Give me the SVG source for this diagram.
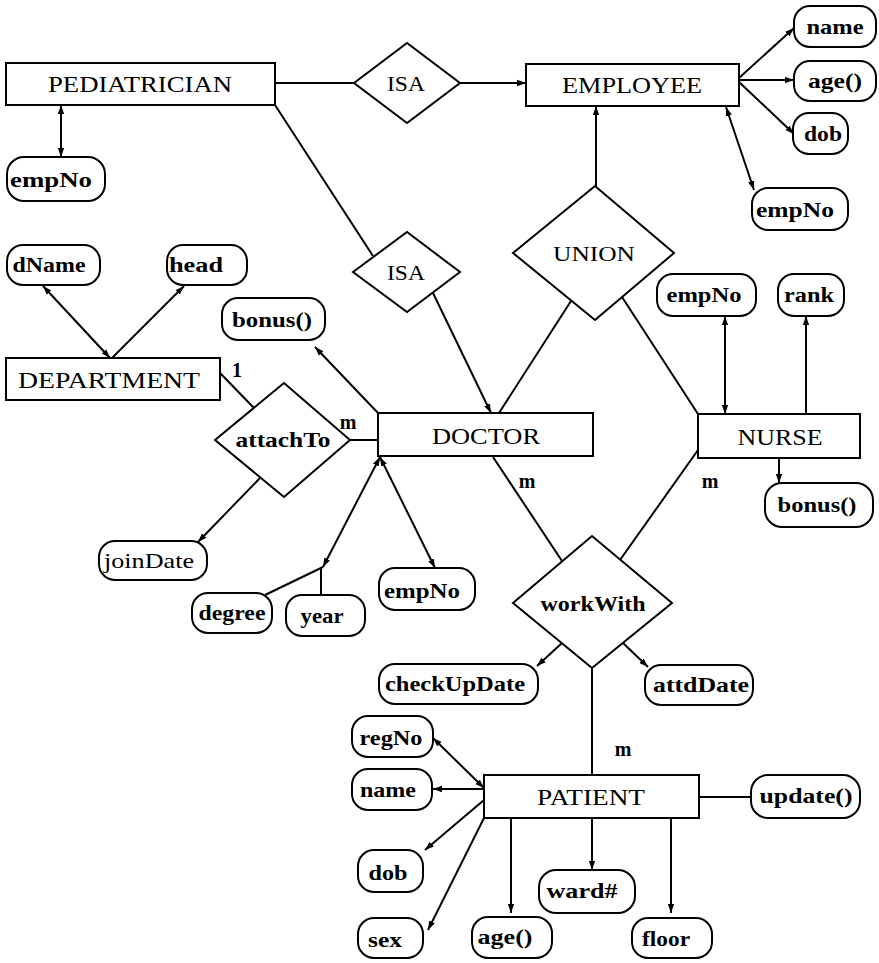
<svg xmlns="http://www.w3.org/2000/svg" width="879" height="963" viewBox="0 0 879 963">
<style>
.box{fill:#fff;stroke:#000;stroke-width:2}
.attr{fill:#fff;stroke:#000;stroke-width:2}
.dia{fill:#fff;stroke:#000;stroke-width:2}
.ent{font-family:"Liberation Serif",serif;font-size:24px;text-anchor:middle;fill:#000}
.at{font-family:"Liberation Serif",serif;font-size:22px;font-weight:bold;text-anchor:middle;fill:#000}
.rel{font-family:"Liberation Serif",serif;font-size:22px;text-anchor:middle;fill:#000}
.relb{font-family:"Liberation Serif",serif;font-size:22px;font-weight:bold;text-anchor:middle;fill:#000}
.lbl{font-family:"Liberation Serif",serif;font-size:20px;font-weight:bold;text-anchor:middle;fill:#000}
#connectors line{stroke:#000;stroke-width:2;fill:none}
.e{marker-end:url(#a)}
.d{marker-start:url(#a);marker-end:url(#a)}
</style>
<defs>
<marker id="a" viewBox="0 0 10 10" refX="10" refY="5" markerWidth="9" markerHeight="9" markerUnits="userSpaceOnUse" orient="auto-start-reverse">
<path d="M0,1.5 L10,5 L0,8.5 z" fill="#000"/>
</marker>
</defs>
<rect width="879" height="963" fill="#fff"/>
<g id="connectors">
<line x1="275" y1="83" x2="354" y2="83"/>
<line class="e" x1="460" y1="83" x2="526" y2="83"/>
<line class="e" x1="596" y1="186" x2="596" y2="106"/>
<line class="e" x1="739" y1="78" x2="794" y2="28"/>
<line class="e" x1="739" y1="80" x2="794" y2="80"/>
<line class="e" x1="739" y1="82" x2="794" y2="134"/>
<line class="d" x1="726" y1="107" x2="754" y2="190"/>
<line class="d" x1="61" y1="105" x2="61" y2="157"/>
<line x1="275" y1="105" x2="373" y2="256"/>
<line class="e" x1="433" y1="293" x2="491" y2="413"/>
<line x1="571" y1="301" x2="499" y2="413"/>
<line x1="622" y1="297" x2="698" y2="414"/>
<line class="d" x1="110" y1="358" x2="43" y2="286"/>
<line class="e" x1="112" y1="358" x2="184" y2="286"/>
<line x1="220" y1="373" x2="254" y2="408"/>
<line x1="350" y1="440" x2="378" y2="440"/>
<line class="e" x1="378" y1="413" x2="315" y2="347"/>
<line class="e" x1="260" y1="478" x2="198" y2="542"/>
<line class="d" x1="380" y1="457" x2="323" y2="567"/>
<line x1="323" y1="567" x2="265" y2="595"/>
<line x1="321" y1="567" x2="321" y2="595"/>
<line class="d" x1="380" y1="457" x2="435" y2="568"/>
<line x1="493" y1="457" x2="562" y2="561"/>
<line x1="698" y1="450" x2="620" y2="560"/>
<line class="d" x1="725" y1="316" x2="725" y2="414"/>
<line class="e" x1="806" y1="414" x2="806" y2="316"/>
<line class="e" x1="779" y1="458" x2="779" y2="483"/>
<line class="e" x1="562" y1="643" x2="537" y2="666"/>
<line class="e" x1="623" y1="643" x2="648" y2="667"/>
<line x1="592" y1="668" x2="592" y2="775"/>
<line class="d" x1="484" y1="788" x2="433" y2="738"/>
<line class="e" x1="484" y1="789" x2="433" y2="789"/>
<line class="e" x1="484" y1="800" x2="425" y2="850"/>
<line class="e" x1="484" y1="818" x2="428" y2="930"/>
<line class="e" x1="511" y1="818" x2="511" y2="913"/>
<line class="e" x1="592" y1="818" x2="592" y2="870"/>
<line class="e" x1="671" y1="818" x2="671" y2="913"/>
<line x1="699" y1="797" x2="751" y2="797"/>
</g>
<g id="pediatrician"><rect class="box" x="6" y="63" width="269" height="42"/><text class="ent" x="140" y="92" textLength="184" lengthAdjust="spacingAndGlyphs">PEDIATRICIAN</text></g>
<g id="isa1"><polygon class="dia" points="354,83 407,43 460,83 407,123"/><text class="rel" x="406" y="91" textLength="38" lengthAdjust="spacingAndGlyphs">ISA</text></g>
<g id="employee"><rect class="box" x="526" y="64" width="213" height="42"/><text class="ent" x="632" y="93" textLength="140" lengthAdjust="spacingAndGlyphs">EMPLOYEE</text></g>
<g id="emp-name"><rect class="attr" x="794" y="6" width="82" height="41" rx="16"/><text class="at" x="835" y="34" textLength="57" lengthAdjust="spacingAndGlyphs">name</text></g>
<g id="emp-age"><rect class="attr" x="794" y="61" width="82" height="40" rx="16"/><text class="at" x="835" y="88" textLength="54" lengthAdjust="spacingAndGlyphs">age()</text></g>
<g id="emp-dob"><rect class="attr" x="793" y="113" width="55" height="41" rx="16"/><text class="at" x="823" y="141" textLength="38" lengthAdjust="spacingAndGlyphs">dob</text></g>
<g id="emp-empNo"><rect class="attr" x="752" y="188" width="96" height="42" rx="16"/><text class="at" x="795" y="217" textLength="78" lengthAdjust="spacingAndGlyphs">empNo</text></g>
<g id="ped-empNo"><rect class="attr" x="7" y="157" width="98" height="44" rx="17"/><text class="at" x="51" y="187" textLength="82" lengthAdjust="spacingAndGlyphs">empNo</text></g>
<g id="union"><polygon class="dia" points="513,253 595,186 674,253 595,320"/><text class="rel" x="594" y="261" textLength="82" lengthAdjust="spacingAndGlyphs">UNION</text></g>
<g id="isa2"><polygon class="dia" points="353,272 407,232 460,272 407,312"/><text class="rel" x="406" y="280" textLength="38" lengthAdjust="spacingAndGlyphs">ISA</text></g>
<g id="dName"><rect class="attr" x="7" y="245" width="93" height="40" rx="16"/><text class="at" x="49" y="272" textLength="73" lengthAdjust="spacingAndGlyphs">dName</text></g>
<g id="head"><rect class="attr" x="167" y="245" width="80" height="40" rx="16"/><text class="at" x="196" y="272" textLength="54" lengthAdjust="spacingAndGlyphs">head</text></g>
<g id="doc-bonus"><rect class="attr" x="222" y="298" width="103" height="42" rx="16"/><text class="at" x="272" y="327" textLength="80" lengthAdjust="spacingAndGlyphs">bonus()</text></g>
<g id="department"><rect class="box" x="6" y="358" width="214" height="42"/><text class="ent" x="109" y="388" textLength="182" lengthAdjust="spacingAndGlyphs">DEPARTMENT</text></g>
<g id="attachTo"><polygon class="dia" points="215,440 284,383 350,440 284,497"/><text class="relb" x="283" y="447" textLength="95" lengthAdjust="spacingAndGlyphs">attachTo</text></g>
<g id="doctor"><rect class="box" x="378" y="413" width="215" height="43"/><text class="ent" x="486" y="444" textLength="108" lengthAdjust="spacingAndGlyphs">DOCTOR</text></g>
<g id="nurse"><rect class="box" x="698" y="414" width="162" height="44"/><text class="ent" x="780" y="445" textLength="85" lengthAdjust="spacingAndGlyphs">NURSE</text></g>
<g id="nurse-empNo"><rect class="attr" x="657" y="274" width="99" height="42" rx="16"/><text class="at" x="704" y="302" textLength="75" lengthAdjust="spacingAndGlyphs">empNo</text></g>
<g id="rank"><rect class="attr" x="778" y="274" width="66" height="42" rx="16"/><text class="at" x="809" y="302" textLength="50" lengthAdjust="spacingAndGlyphs">rank</text></g>
<g id="nurse-bonus"><rect class="attr" x="765" y="483" width="108" height="44" rx="17"/><text class="at" x="817" y="512" textLength="79" lengthAdjust="spacingAndGlyphs">bonus()</text></g>
<g id="workWith"><polygon class="dia" points="513,603 592,536 672,603 592,668"/><text class="relb" x="593" y="611" textLength="105" lengthAdjust="spacingAndGlyphs">workWith</text></g>
<g id="checkUpDate"><rect class="attr" x="379" y="664" width="159" height="40" rx="16"/><text class="at" x="455" y="691" textLength="140" lengthAdjust="spacingAndGlyphs">checkUpDate</text></g>
<g id="attdDate"><rect class="attr" x="645" y="665" width="108" height="40" rx="16"/><text class="at" x="701" y="692" textLength="96" lengthAdjust="spacingAndGlyphs">attdDate</text></g>
<g id="joinDate"><rect class="attr" x="99" y="541" width="108" height="39" rx="16"/><text class="rel" x="149" y="568" textLength="90" lengthAdjust="spacingAndGlyphs">joinDate</text></g>
<g id="degree"><rect class="attr" x="192" y="593" width="80" height="40" rx="16"/><text class="at" x="232" y="620" textLength="67" lengthAdjust="spacingAndGlyphs">degree</text></g>
<g id="year"><rect class="attr" x="286" y="595" width="79" height="41" rx="16"/><text class="at" x="322" y="623" textLength="43" lengthAdjust="spacingAndGlyphs">year</text></g>
<g id="doc-empNo"><rect class="attr" x="379" y="568" width="96" height="42" rx="16"/><text class="at" x="422" y="598" textLength="76" lengthAdjust="spacingAndGlyphs">empNo</text></g>
<g id="patient"><rect class="box" x="484" y="775" width="215" height="43"/><text class="ent" x="591" y="805" textLength="108" lengthAdjust="spacingAndGlyphs">PATIENT</text></g>
<g id="update"><rect class="attr" x="751" y="775" width="109" height="43" rx="17"/><text class="at" x="806" y="803" textLength="93" lengthAdjust="spacingAndGlyphs">update()</text></g>
<g id="regNo"><rect class="attr" x="352" y="716" width="81" height="41" rx="16"/><text class="at" x="391" y="745" textLength="63" lengthAdjust="spacingAndGlyphs">regNo</text></g>
<g id="pat-name"><rect class="attr" x="352" y="769" width="80" height="41" rx="16"/><text class="at" x="388" y="797" textLength="56" lengthAdjust="spacingAndGlyphs">name</text></g>
<g id="pat-dob"><rect class="attr" x="358" y="850" width="65" height="42" rx="16"/><text class="at" x="388" y="880" textLength="39" lengthAdjust="spacingAndGlyphs">dob</text></g>
<g id="sex"><rect class="attr" x="358" y="918" width="65" height="40" rx="16"/><text class="at" x="385" y="947" textLength="34" lengthAdjust="spacingAndGlyphs">sex</text></g>
<g id="pat-age"><rect class="attr" x="472" y="917" width="80" height="41" rx="16"/><text class="at" x="505" y="944" textLength="55" lengthAdjust="spacingAndGlyphs">age()</text></g>
<g id="ward"><rect class="attr" x="539" y="870" width="96" height="43" rx="17"/><text class="at" x="582" y="898" textLength="71" lengthAdjust="spacingAndGlyphs">ward#</text></g>
<g id="floor"><rect class="attr" x="632" y="918" width="80" height="40" rx="16"/><text class="at" x="666" y="946" textLength="48" lengthAdjust="spacingAndGlyphs">floor</text></g>
<g id="labels">
<text class="lbl" x="237" y="377">1</text>
<text class="lbl" x="348" y="429">m</text>
<text class="lbl" x="527" y="488">m</text>
<text class="lbl" x="710" y="488">m</text>
<text class="lbl" x="623" y="756">m</text>
</g>
</svg>
